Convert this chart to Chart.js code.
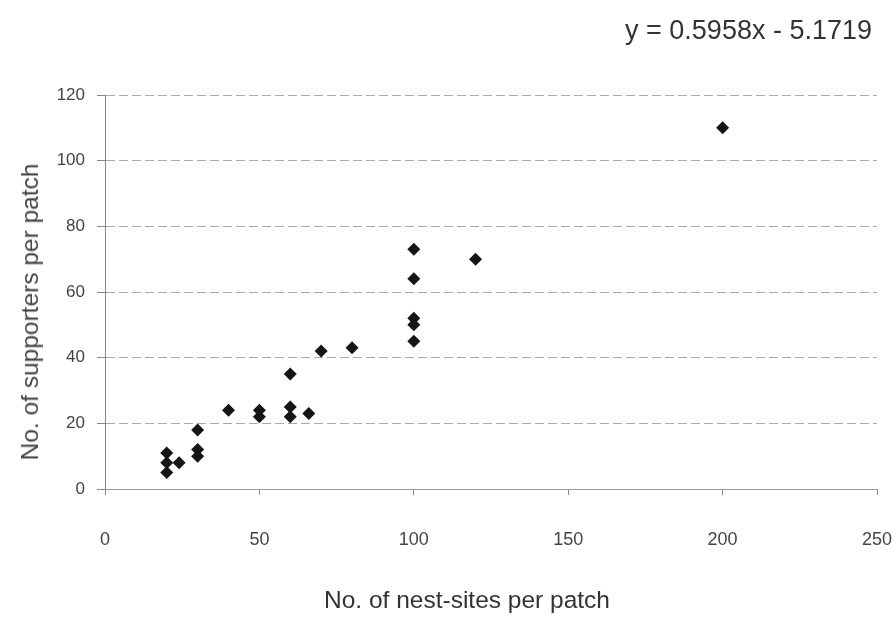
<!DOCTYPE html>
<html>
<head>
<meta charset="utf-8">
<script src="https://cdn.jsdelivr.net/npm/chart.js@4"></script>
<style>
  html, body { margin: 0; padding: 0; background: #fff; overflow: hidden; }
  #wrap { position: relative; width: 896px; height: 618px; }
  canvas { position: absolute; left: 0; top: 0; }
  .lbl { position: absolute; font-family: "Liberation Sans", Arial, sans-serif; color: #333; white-space: nowrap; }
  #eq { right: 24px; top: 16px; font-size: 27px; line-height: 28px; }
  #xTitle { left: 324px; top: 586px; font-size: 24.5px; line-height: 28px; }
  /* rotated y title, centred at (30, 312) */
  #yTitle { left: 30px; top: 312px; font-size: 24.5px; line-height: 28px; color: #444;
            transform: translate(-50%, -50%) rotate(-90deg); }
</style>
</head>
<body>
<div id="wrap">
  <canvas id="chart" width="896" height="618"></canvas>
  <div class="lbl" id="eq">y = 0.5958x - 5.1719</div>
  <div class="lbl" id="xTitle"></div>
  <div class="lbl" id="yTitle"></div>
</div>
<script>
// nest-sites per patch (x) and supporters per patch (y)
const nestSites  = [20, 20, 20, 24, 30, 30, 30, 40, 50, 50, 60, 60, 66, 60, 70, 80, 100, 100, 100, 100, 100, 120, 200];
const supporters = [11,  8,  5,  8, 18, 12, 10, 24, 24, 22, 25, 22, 23, 35, 42, 43,  73,  64,  52,  50,  45,  70, 110];

const xTicks = [0, 50, 100, 150, 200, 250];
const yTicks = [0, 20, 40, 60, 80, 100, 120];

const xTitle = 'No. of nest-sites per patch';
const yTitle = 'No. of supporters per patch';

document.getElementById('xTitle').textContent = xTitle;
document.getElementById('yTitle').textContent = yTitle;

const points = nestSites.map((x, i) => ({ x: x, y: supporters[i] }));

const font = 'Liberation Sans, Arial, sans-serif';

new Chart(document.getElementById('chart'), {
  type: 'scatter',
  data: {
    datasets: [{
      data: points,
      pointStyle: 'rectRot',
      pointRadius: 6.5,
      pointHoverRadius: 6.5,
      backgroundColor: '#151515',
      borderColor: '#151515',
      borderWidth: 0
    }]
  },
  options: {
    responsive: false,
    animation: false,
    layout: { padding: { top: 95, right: 19, left: 0, bottom: 0 } },
    plugins: { legend: { display: false }, tooltip: { enabled: false } },
    scales: {
      x: {
        type: 'linear',
        min: xTicks[0],
        max: xTicks[xTicks.length - 1],
        afterBuildTicks: s => { s.ticks = xTicks.map(v => ({ value: v })); },
        // fixed axis band; drop the label overhang padding so the plot reaches 877px
        afterFit: s => { s.height = 129; s.paddingLeft = 0; s.paddingRight = 0; },
        grid: { drawOnChartArea: false, drawTicks: true, tickLength: 6, color: '#888' },
        border: { display: true, color: '#999', width: 1 },
        ticks: { padding: 34, color: '#444', font: { family: font, size: 18 }, maxRotation: 0 },
        title: { display: false, text: xTitle }
      },
      y: {
        type: 'linear',
        min: yTicks[0],
        max: yTicks[yTicks.length - 1],
        afterBuildTicks: s => { s.ticks = yTicks.map(v => ({ value: v })); },
        afterFit: s => { s.width = 105; s.paddingTop = 0; s.paddingBottom = 0; },
        grid: { color: '#aaa', drawTicks: true, tickLength: 8, tickColor: '#888' },
        border: { display: true, color: '#888', width: 1, dash: [9, 4] },
        ticks: { padding: 12, color: '#444', font: { family: font, size: 17 } },
        title: { display: false, text: yTitle }
      }
    }
  }
});
</script>
</body>
</html>
